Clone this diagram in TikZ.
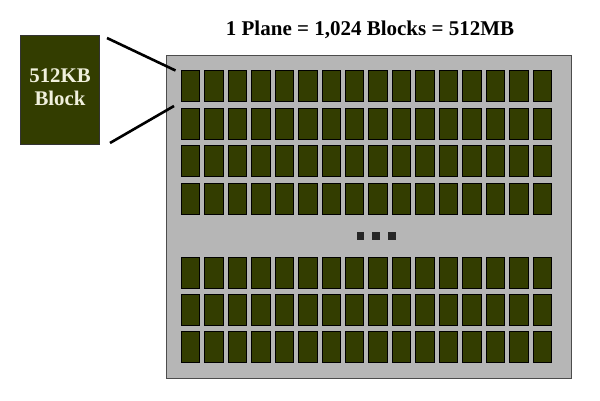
\documentclass[tikz,border=0pt]{standalone}
\usepackage{fontspec}
\setmainfont{Liberation Serif}
\definecolor{blk}{RGB}{51,61,0}
\definecolor{plane}{RGB}{182,182,182}
\definecolor{txt}{RGB}{240,240,220}
\begin{document}
\begin{tikzpicture}[x=1pt,y=-1pt,
  cell/.style={draw=black,line width=0.8pt,fill=blk,minimum width=18.5pt,minimum height=31pt,inner sep=0pt,anchor=north west},
  dotsq/.style={fill=black!85,minimum size=7.5pt,inner sep=0pt},
  pointer/.style={line width=2.6pt,black}]
\useasboundingbox (0,0) rectangle (600,401);
\node[draw=black!70,line width=1pt,fill=plane,minimum width=405pt,minimum height=323pt,inner sep=0pt,anchor=north west] (plane) at (166,55) {};
\foreach \r/\y in {1/70.5,2/108,3/145.5,4/183}{
  \foreach \c in {0,...,15}{
    \node[cell] (c\r-\c) at ({180.7+23.47*\c},\y) {};
  }
}
\foreach \r/\y in {5/256.5,6/293.5,7/330.5}{
  \foreach \c in {0,...,15}{
    \node[cell] (c\r-\c) at ({180.7+23.47*\c},\y) {};
  }
}
\node[dotsq] (d1) at (360.5,236) {};
\node[dotsq] (d2) at (376,236) {};
\node[dotsq] (d3) at (391.8,236) {};
\node[draw=black!80,line width=1pt,fill=blk,minimum width=79pt,minimum height=109pt,inner sep=0pt,anchor=north west] (big) at (20,35) {};
\node[text=txt,font=\bfseries\fontsize{20.8}{23.5}\selectfont,align=center,anchor=base] (lbl) at (60,106) {512KB\\Block};
\coordinate (a1) at (107,38);
\coordinate (a2) at (175.5,70.5);
\coordinate (b1) at (110,143);
\coordinate (b2) at (174,106);
\draw[pointer] (a1) -- (a2);
\draw[pointer] (b1) -- (b2);
\node[font=\bfseries\fontsize{21}{24}\selectfont,anchor=base] (title) at (370,36) {1 Plane = 1,024 Blocks = 512MB};
\end{tikzpicture}
\end{document}
